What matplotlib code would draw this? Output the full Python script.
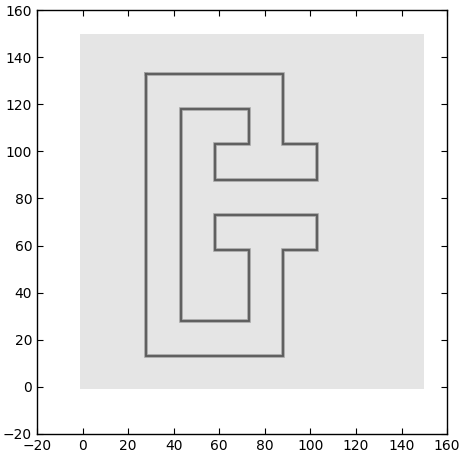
import matplotlib
matplotlib.use("Agg")
import matplotlib.pyplot as plt
from matplotlib.patches import Rectangle
from matplotlib import font_manager

# Path outline vertices (closed loop)
path_x = [28, 88, 88, 103, 103, 58, 58, 73, 73, 43, 43, 73, 73, 58, 58, 103, 103, 88, 88, 28, 28]
path_y = [133, 133, 103, 103, 88, 88, 103, 103, 118, 118, 28, 28, 58, 58, 73, 73, 58, 58, 13, 13, 133]

# Field extent
field_min = -1
field_max = 150

names = {f.name for f in font_manager.fontManager.ttflist}
family = "Liberation Sans Narrow" if "Liberation Sans Narrow" in names else "DejaVu Sans"
plt.rcParams["font.family"] = [family, "DejaVu Sans"]

fig = plt.figure(figsize=(4.59, 4.59), dpi=100)
ax = fig.add_axes([0.0806, 0.0545, 0.8934, 0.9237])

ax.add_patch(Rectangle((field_min, field_min), field_max - field_min, field_max - field_min,
                       facecolor="#e5e5e5", edgecolor="none", zorder=0))
ax.plot(path_x, path_y, color="#a0a0a0", lw=2.6, solid_joinstyle="miter", zorder=2)
ax.plot(path_x, path_y, color="#5a5a5a", lw=1.3, solid_joinstyle="miter", zorder=3)

ax.set_xlim(-20, 160)
ax.set_ylim(-20, 160)
ax.set_xticks(range(-20, 161, 20))
ax.set_yticks(range(-20, 161, 20))
ax.tick_params(direction="in", top=True, right=True, length=4,
               labelsize=12 if family != "DejaVu Sans" else 10)
for s in ax.spines.values():
    s.set_linewidth(1.0)

fig.savefig("out.png", dpi=100)
